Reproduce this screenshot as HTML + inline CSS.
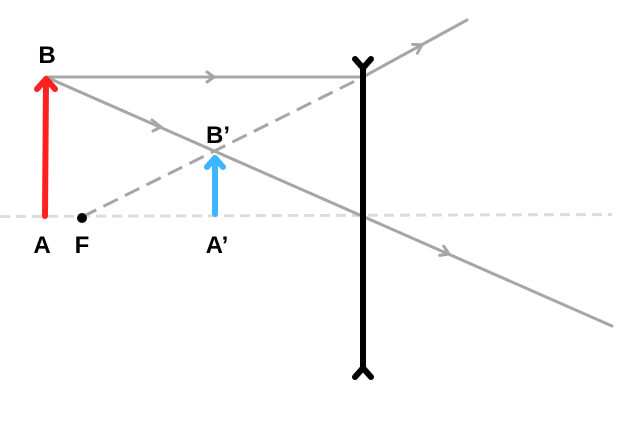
<!DOCTYPE html>
<html><head><meta charset="utf-8"><style>html,body{margin:0;padding:0;background:#fff;}svg{display:block}</style></head>
<body>
<svg width="640" height="438" viewBox="0 0 640 438" xmlns="http://www.w3.org/2000/svg">
<line x1="0" y1="216.5" x2="612" y2="214.5" stroke="#dcdcdc" stroke-width="3" stroke-dasharray="10,6"/>
<g stroke="#a6a6a6" stroke-width="3" fill="none" stroke-linecap="round" stroke-linejoin="round">
<line x1="46" y1="77" x2="363" y2="77"/>
<line x1="46" y1="77" x2="612" y2="326"/>
<line x1="363" y1="77" x2="467" y2="20"/>
<line x1="82" y1="217" x2="363" y2="77" stroke-dasharray="16,8" stroke-linecap="butt"/>
<polyline points="207,72 214,77 207,82"/>
<polyline points="152,120 161,127 153,131"/>
<polyline points="412.6,44.4 422,44.7 417.4,53.2"/>
<polyline points="443.7,246.2 449,254 439.7,255.4"/>
</g>
<g stroke="#000" stroke-width="6" fill="none" stroke-linecap="round" stroke-linejoin="round">
<line x1="363" y1="68" x2="363" y2="368"/>
<polyline points="355,59 363,68 371,59"/>
<polyline points="355,377 363,368 371,377"/>
</g>
<circle cx="82" cy="218" r="5" fill="#000"/>
<g stroke="#ff2020" stroke-width="6" fill="none" stroke-linecap="round" stroke-linejoin="round">
<line x1="45" y1="216" x2="46" y2="80"/>
<polyline points="37,89 46,79 55,89"/>
</g>
<g stroke="#3bb6ff" stroke-width="6" fill="none" stroke-linecap="round" stroke-linejoin="round">
<line x1="215" y1="214" x2="215" y2="158"/>
<polyline points="207,167 215,158 223,167"/>
</g>
<g font-family="'Liberation Sans',sans-serif" font-weight="bold" font-size="24" fill="#000" text-anchor="middle">
<text x="47" y="63">B</text>
<text x="42" y="253">A</text>
<text x="82" y="253">F</text>
<text x="218" y="143">B’</text>
<text x="217" y="253">A’</text>
</g>
</svg>
</body></html>
